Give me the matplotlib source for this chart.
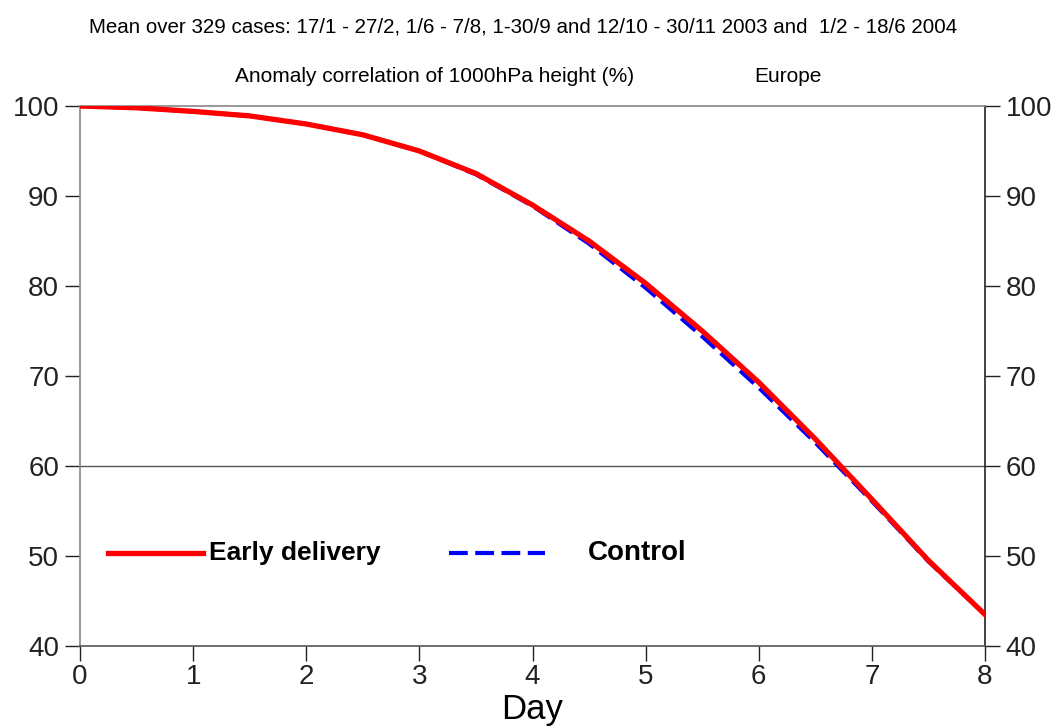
import numpy as np
import matplotlib
matplotlib.use("Agg")
from matplotlib import pyplot as plt
from matplotlib.lines import Line2D

plt.rcParams['font.family'] = ['Liberation Sans', 'DejaVu Sans']

days = [0, 0.5, 1, 1.5, 2, 2.5, 3, 3.5, 4, 4.5, 5, 5.5, 6, 6.5, 7, 7.5, 8]
early = [100, 99.8, 99.4, 98.9, 98.0, 96.8, 95.0, 92.5, 89.0, 85.0, 80.3, 75.0, 69.3, 63.0, 56.3, 49.5, 43.5]
control = [100, 99.8, 99.4, 98.9, 98.0, 96.8, 95.0, 92.4, 88.9, 84.7, 79.8, 74.4, 68.7, 62.6, 56.1, 49.4, 43.5]
yticks = [40, 50, 60, 70, 80, 90, 100]
xticks = list(range(9))

fig = plt.figure(figsize=(10.58, 7.28), dpi=100)
ax = fig.add_axes([80/1058, 1-646/728, 905/1058, 540/728])

ax.axhline(60, color='#555555', lw=1.0, zorder=1)
ax.plot(days, control, color='blue', lw=3, dashes=(4.5, 1.8), zorder=2)
ax.plot(days, early, color='red', lw=3.8, zorder=3)

ax.set_xlim(0, 8)
ax.set_ylim(40, 100)
ax.set_xticks(xticks)
ax.set_yticks(yticks)
ax.tick_params(axis='both', direction='out', length=11, width=1, labelsize=20, colors='#222222')
ax.tick_params(axis='y', left=True, right=True, labelleft=True, labelright=True, pad=4)
ax.tick_params(axis='x', pad=2)
for s in ['left', 'top']:
    ax.spines[s].set_color('#888888')
ax.spines['bottom'].set_color('#555555')
ax.spines['right'].set_color('#222222')
for s in ax.spines.values():
    s.set_linewidth(1.2)
ax.set_xlabel('Day', fontsize=25, labelpad=2)

# legend drawn inside the axes
ly = 0.172
ax.add_line(Line2D([0.031, 0.136], [ly, ly], transform=ax.transAxes, color='red', lw=3.8))
ax.text(0.1425, ly, 'Early delivery', transform=ax.transAxes, fontsize=19, fontweight='bold', va='center')
ax.add_line(Line2D([0.408, 0.514], [ly, ly], transform=ax.transAxes, color='blue', lw=3, dashes=(4.5, 1.8)))
ax.text(0.561, ly, 'Control', transform=ax.transAxes, fontsize=20, fontweight='bold', va='center')

fig.text(0.494, 1-27/728, 'Mean over 329 cases: 17/1 - 27/2, 1/6 - 7/8, 1-30/9 and 12/10 - 30/11 2003 and  1/2 - 18/6 2004',
         ha='center', va='center', fontsize=14.8)
fig.text(435/1058, 1-77/728, 'Anomaly correlation of 1000hPa height (%)', ha='center', va='center', fontsize=15)
fig.text(788/1058, 1-77/728, 'Europe', ha='center', va='center', fontsize=15)

fig.savefig('out.png', dpi=100)
